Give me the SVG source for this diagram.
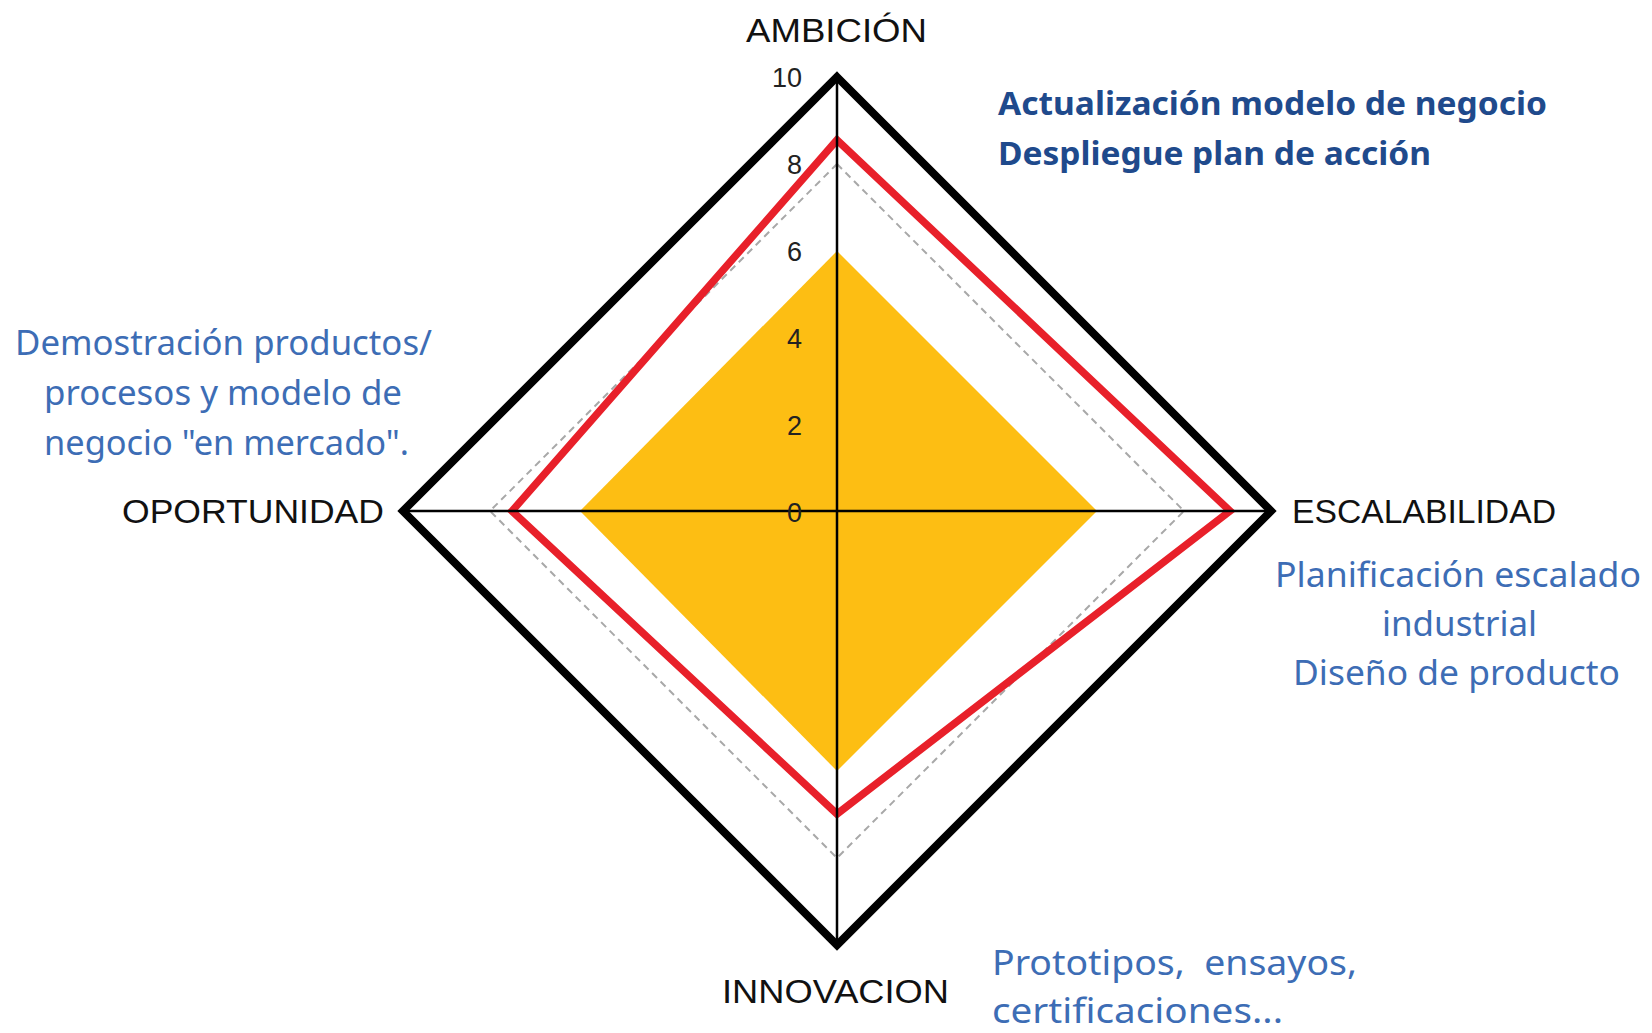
<svg xmlns="http://www.w3.org/2000/svg" width="1652" height="1033" viewBox="0 0 1652 1033">
<style>
.axis{font-family:"Liberation Sans",Arial,sans-serif;font-size:34px;fill:#111;}
.tick{font-family:"Liberation Sans",Arial,sans-serif;font-size:27px;fill:#222;text-anchor:end;}
.note{font-family:"Noto Sans","Open Sans",sans-serif;font-size:35px;fill:#3D6DB5;}
.bold{font-family:"Noto Sans","Open Sans",sans-serif;font-size:32px;font-weight:bold;fill:#1F4A8C;}
.ax{stroke:#000;stroke-width:2.5;fill:none;}
</style>
<rect width="1652" height="1033" fill="#fff"/>
<g id="series-current">
<polygon points="837,251 1097,511 837,771 580,511" fill="#FDBE13"/>
</g>
<g id="grid-8">
<polygon points="837,164 1184,511 837,858 490,511" fill="none" stroke="#A8A8A8" stroke-width="2" stroke-dasharray="7,5"/>
</g>
<g id="series-target">
<polygon points="837,140 1230,511 837,814 512,511" fill="none" stroke="#E8202A" stroke-width="7.5" stroke-linejoin="miter"/>
</g>
<g id="connectors">
<line class="ax" x1="837" y1="77" x2="837" y2="945"/>
<line class="ax" x1="403" y1="511" x2="1271" y2="511"/>
</g>
<g id="series-max">
<polygon points="837,77 1271,511 837,945 403,511" fill="none" stroke="#000" stroke-width="8" stroke-linejoin="miter"/>
</g>
<g id="ticks">
<text class="tick" x="802" y="87">10</text>
<text class="tick" x="802" y="174">8</text>
<text class="tick" x="802" y="261">6</text>
<text class="tick" x="802" y="348">4</text>
<text class="tick" x="802" y="435">2</text>
<text class="tick" x="802" y="522">0</text>
</g>
<g id="node-ambicion">
<text class="axis" x="746" y="42" textLength="181" lengthAdjust="spacingAndGlyphs">AMBICIÓN</text>
</g>
<g id="node-escalabilidad">
<text class="axis" x="1292" y="523" textLength="264" lengthAdjust="spacingAndGlyphs">ESCALABILIDAD</text>
</g>
<g id="node-oportunidad">
<text class="axis" x="122" y="523" textLength="262" lengthAdjust="spacingAndGlyphs">OPORTUNIDAD</text>
</g>
<g id="node-innovacion">
<text class="axis" x="722" y="1003" textLength="227" lengthAdjust="spacingAndGlyphs">INNOVACION</text>
</g>
<g id="note-ambicion">
<text class="bold" x="998" y="115" textLength="549" lengthAdjust="spacingAndGlyphs">Actualización modelo de negocio</text>
<text class="bold" x="998" y="165" textLength="433" lengthAdjust="spacingAndGlyphs">Despliegue plan de acción</text>
</g>
<g id="note-escalabilidad">
<text class="note" x="1275" y="587" textLength="366" lengthAdjust="spacingAndGlyphs">Planificación escalado</text>
<text class="note" x="1382" y="636" textLength="155" lengthAdjust="spacingAndGlyphs">industrial</text>
<text class="note" x="1293" y="685" textLength="327" lengthAdjust="spacingAndGlyphs">Diseño de producto</text>
</g>
<g id="note-oportunidad">
<text class="note" x="15" y="355" textLength="417" lengthAdjust="spacingAndGlyphs">Demostración productos/</text>
<text class="note" x="44" y="405" textLength="358" lengthAdjust="spacingAndGlyphs">procesos y modelo de</text>
<text class="note" x="44" y="455" textLength="365" lengthAdjust="spacingAndGlyphs">negocio "en mercado".</text>
</g>
<g id="note-innovacion">
<text class="note" x="992" y="975" textLength="365" lengthAdjust="spacingAndGlyphs" xml:space="preserve">Prototipos,  ensayos,</text>
<text class="note" x="992" y="1023" textLength="291" lengthAdjust="spacingAndGlyphs">certificaciones...</text>
</g>
</svg>
